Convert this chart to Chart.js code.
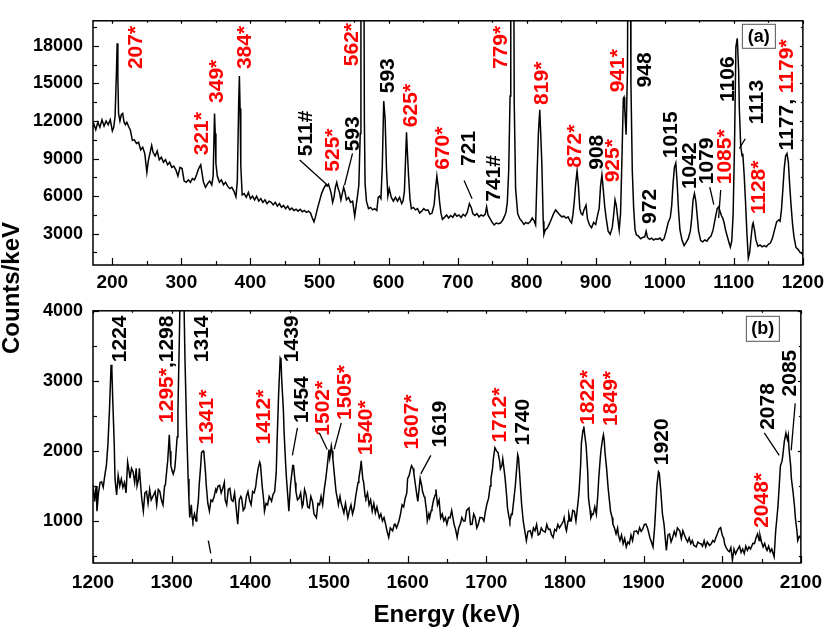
<!DOCTYPE html>
<html>
<head>
<meta charset="utf-8">
<script src="https://cdn.jsdelivr.net/npm/chart.js@4.4.1/dist/chart.umd.min.js"></script>
<style>
  body { margin: 0; background: #fff; }
  #wrap { position: relative; width: 830px; height: 642px; overflow: hidden; }
  #wrap canvas { position: absolute; left: 0; }
  #specA { top: 0; }
  #specB { top: 290px; }
  #ytitle {
    position: absolute; left: -89px; top: 274px; width: 200px; height: 28px;
    line-height: 28px; text-align: center; transform: rotate(-90deg);
    font: bold 24px "Liberation Sans", Arial, sans-serif; color: #000;
  }
</style>
</head>
<body>
<div id="wrap">
  <canvas id="specA" width="830" height="300"></canvas>
  <canvas id="specB" width="830" height="352"></canvas>
  <div id="ytitle">Counts/keV</div>
</div>
<script>
// panel (a): 170 - 1200 keV
const energyA = [170,173,176,179,182,185,188,191,194,197,200,202,204,206,207,208,209,211,213,215,217,219,221,224,226,229,232,235,238,241,244,247,250,252,254,257,259,262,265,268,271,274,277,280,283,286,289,292,295,298,301,304,307,310,313,316,319,322,325,328,330,332,335,338,341,344,346,348,349,350,352,355,358,361,364,367,370,373,376,379,381,383,384,385,386,388,391,394,397,400,403,406,409,412,415,418,421,424,427,430,433,436,439,442,445,448,451,454,457,460,463,466,469,472,475,478,481,484,487,490,492,494,497,500,503,506,509,511,513,515,517,519,521,523,525,527,529,531,533,535,537,539,542,545,548,551,553,555,557,559,560,561,562,563,564,565,566,568,571,574,577,580,583,585,587,589,591,593,595,597,599,601,604,607,610,613,616,619,621,623,625,626,627,629,631,633,636,639,642,645,648,651,654,657,660,663,666,668,670,672,674,676,678,681,684,687,690,693,696,699,702,705,708,711,714,717,720,722,725,728,731,734,737,740,742,744,747,750,753,756,759,762,765,768,770,772,774,776,777,778,779,780,781,782,784,787,790,793,796,799,802,805,808,811,813,815,817,819,820,822,824,825,827,830,833,836,839,842,845,848,851,854,857,860,863,865,867,869,871,873,875,877,879,881,883,886,888,891,894,897,900,902,905,907,909,911,913,915,918,921,924,926,928,930,932,934,936,938,940,941,942,944,946,947,948,949,950,951,953,955,957,959,962,965,968,971,973,975,978,981,984,987,990,993,996,999,1002,1005,1008,1010,1012,1014,1016,1018,1020,1022,1025,1028,1031,1034,1037,1039,1041,1043,1045,1047,1049,1052,1055,1058,1061,1064,1067,1070,1073,1076,1078,1080,1082,1084,1086,1088,1090,1093,1095,1097,1099,1101,1103,1105,1107,1108,1110,1112,1113,1115,1117,1119,1121,1123,1125,1127,1128,1130,1132,1135,1138,1141,1144,1147,1150,1153,1156,1159,1162,1165,1167,1169,1171,1173,1175,1177,1179,1181,1183,1185,1187,1190,1193,1196,1199,1200];
const countsA = [11200,11800,11300,11900,11500,12100,11600,12000,11700,12100,11200,11500,12400,16000,18200,15500,12600,12000,12500,12600,11900,11700,11900,11500,11300,10450,10500,10200,10300,9700,9900,9400,7900,8800,9300,10050,9500,9200,9600,8900,9100,8700,8900,8500,8700,8300,8400,8100,7600,8300,8200,7200,7100,7300,7100,7400,7300,7700,8200,8500,7800,7100,6700,7000,7200,6900,7600,12600,11000,8600,7600,7100,7300,6900,7100,6800,6600,6700,6400,5950,7200,13500,15600,13000,8500,6100,6200,5900,6300,5800,6000,5700,6000,5600,5800,5500,5700,5400,5600,5500,5300,5500,5200,5400,5100,5250,5000,5200,4900,5050,4850,4950,4800,4950,4750,4850,4700,4800,4650,4200,3950,4300,5000,5600,6200,6600,6900,6800,6950,6600,6200,5500,5900,6700,7100,6600,6300,5700,6200,6700,6300,5700,5900,5500,5600,4400,5200,6000,6900,11000,19000,45000,50000,45000,30000,12000,7000,5600,5000,5100,4900,5000,4850,5900,6000,5800,8500,13600,12200,8200,6000,6600,5900,5600,5900,5600,5900,5400,5600,6400,9500,11100,9800,7600,5800,5000,5100,4900,5000,4650,4800,5000,4850,4900,4550,4650,5300,6600,7600,6700,5500,4600,4150,4300,4500,4250,4450,4300,4600,4400,4500,4300,4550,4400,4700,5400,5050,4600,4450,4600,4350,4500,4400,4550,5150,4500,4200,3900,3700,3850,3800,3850,4050,4400,4700,5500,8000,14000,30000,50000,60000,50000,30000,13500,6600,4600,4200,4000,3750,3900,3800,3950,4250,4000,3700,7600,11000,12900,11500,8600,4000,2950,3300,3450,3800,4200,4600,4900,4700,4500,4350,4400,4250,4350,4000,3860,4500,5600,7000,8000,6800,5000,4600,4500,4900,5280,4200,3700,3475,3900,3730,4300,5020,6800,7700,6500,5200,4300,3200,2960,3500,4500,5700,5200,4200,3300,4600,9000,13800,13900,13000,10900,16000,30000,50000,50000,30000,15000,8000,5000,3300,2900,2800,2600,2700,2750,3200,2700,2550,2650,2500,2600,2550,2650,2450,2600,3200,3900,4300,5200,7000,8300,8650,7000,4800,3300,2500,2050,2300,2600,3200,4200,5700,6200,5600,4400,3200,2450,2350,2500,2400,2650,2800,3300,4200,5000,5150,4800,4450,4250,3850,3300,2900,2300,1930,2400,4500,10000,17900,18600,16000,13000,10000,9200,9400,7700,5500,3000,1050,1500,2700,3700,3860,3300,2500,1990,2100,1950,2050,1950,2150,2250,2650,3300,3950,4100,4000,4900,6500,8200,9200,9400,8700,6800,5200,3800,2800,1900,1750,1500,1400,1280];

// panel (b): 1200 - 2100 keV
const energyB = [1200,1202,1204,1205,1207,1209,1211,1213,1215,1217,1219,1221,1223,1224,1225,1227,1228,1230,1232,1234,1236,1238,1240,1242,1244,1246,1247,1249,1251,1253,1255,1256,1258,1259,1261,1262,1264,1266,1268,1270,1272,1274,1277,1279,1281,1283,1285,1287,1289,1291,1292,1294,1295,1297,1298,1299,1301,1302,1304,1305,1307,1308,1310,1311,1312,1314,1315,1316,1317,1319,1321,1322,1323,1325,1326,1327,1329,1331,1332,1334,1335,1337,1338,1340,1341,1343,1344,1346,1348,1350,1352,1354,1356,1357,1359,1361,1363,1365,1367,1368,1370,1372,1374,1376,1378,1380,1382,1384,1386,1388,1389,1391,1393,1395,1397,1399,1401,1403,1405,1407,1408,1410,1412,1413,1415,1417,1418,1420,1422,1424,1427,1429,1431,1433,1434,1436,1438,1439,1440,1442,1443,1445,1446,1448,1449,1451,1452,1454,1455,1457,1458,1460,1462,1464,1466,1467,1469,1471,1473,1475,1477,1479,1481,1484,1486,1488,1490,1492,1494,1496,1498,1500,1501,1502,1503,1504,1505,1507,1509,1511,1512,1514,1515,1517,1519,1521,1524,1526,1528,1530,1532,1534,1535,1537,1538,1540,1541,1543,1544,1546,1547,1549,1551,1553,1555,1557,1559,1561,1564,1566,1568,1570,1572,1574,1576,1578,1581,1583,1584,1586,1589,1591,1593,1595,1597,1599,1600,1602,1604,1605,1607,1608,1610,1612,1613,1615,1616,1618,1619,1621,1622,1624,1625,1627,1628,1630,1631,1633,1635,1636,1638,1640,1642,1644,1646,1648,1650,1652,1654,1656,1659,1661,1663,1665,1667,1669,1671,1673,1675,1678,1680,1682,1684,1686,1688,1690,1692,1695,1697,1699,1701,1703,1705,1706,1708,1709,1711,1713,1715,1717,1718,1720,1721,1723,1724,1726,1727,1729,1730,1732,1733,1735,1737,1739,1740,1741,1742,1744,1745,1747,1749,1751,1753,1756,1758,1760,1762,1764,1766,1768,1770,1772,1775,1777,1779,1781,1783,1785,1787,1789,1791,1793,1796,1798,1799,1801,1802,1804,1805,1807,1808,1810,1812,1814,1815,1817,1818,1820,1821,1823,1824,1825,1827,1829,1830,1832,1833,1835,1836,1838,1840,1842,1843,1845,1846,1848,1849,1850,1851,1853,1855,1857,1858,1860,1861,1863,1865,1867,1868,1870,1872,1874,1876,1878,1880,1882,1884,1886,1888,1891,1893,1895,1897,1899,1901,1903,1905,1906,1908,1910,1912,1914,1915,1917,1919,1920,1922,1924,1926,1928,1929,1931,1933,1935,1937,1939,1941,1943,1946,1948,1950,1952,1954,1956,1958,1960,1962,1964,1967,1969,1971,1973,1975,1977,1979,1981,1984,1986,1988,1990,1992,1994,1996,1998,2000,2002,2003,2005,2007,2009,2011,2013,2015,2017,2019,2022,2024,2026,2028,2030,2032,2034,2036,2039,2041,2043,2045,2047,2048,2050,2052,2054,2056,2057,2059,2061,2063,2064,2066,2068,2070,2071,2073,2074,2076,2077,2079,2081,2082,2083,2084,2085,2087,2088,2090,2092,2093,2095,2096,2098,2100];
const countsB = [1510,1280,1500,1140,1400,1550,1560,1480,1650,1790,2100,2600,3230,3150,2770,2100,1600,1370,1650,1500,1600,1480,1550,1400,1840,1700,1610,1750,1700,1550,1750,1500,1600,1750,1450,1320,1140,1400,1420,1250,1450,1300,1370,1420,1230,1450,1420,1300,1230,1500,1510,1750,1860,2230,2000,1790,1700,1670,1750,1885,2200,2580,3740,4500,6000,7000,5000,3900,3280,2350,1600,1300,1050,1230,1050,1000,1100,1000,1095,1300,1510,1800,1975,2000,1975,1700,1510,1250,1140,1300,1280,1350,1450,1420,1500,1510,1400,1465,1550,1300,1230,1450,1465,1300,1280,1400,1185,955,1300,1350,1325,1150,1185,1350,1420,1300,1230,1420,1400,1500,1605,1750,1840,1800,1510,1300,1140,1250,1230,1350,1280,1380,1420,1700,2120,2810,3325,3300,3000,2600,2260,1800,1605,1300,1140,1500,1605,1790,1790,1550,1420,1300,1325,1400,1200,1230,1450,1370,1200,1185,1350,1280,1100,1045,1250,1230,1350,1230,1450,1605,1800,2020,1900,1975,2070,2000,1885,1650,1420,1300,1230,1350,1280,1200,1115,1250,1045,1150,1230,1100,1185,1350,1420,1550,1605,1750,1860,1600,1560,1350,1325,1400,1230,1300,1140,1250,1115,1200,1045,1100,1000,1050,955,850,765,900,860,950,955,900,1000,1100,1230,1200,1325,1400,1605,1650,1750,1790,1750,1675,1510,1350,1280,1500,1605,1500,1420,1350,1325,1150,1000,1100,1045,1150,1185,1300,1370,1450,1230,1300,1045,1100,1000,1050,955,1050,1045,1150,955,880,765,900,955,1050,1000,1000,1150,1185,950,955,1100,1045,900,955,1050,1045,1000,1140,1250,1325,1500,1605,1750,1885,2045,2000,1975,1850,1745,1800,1885,1700,1605,1350,1185,1050,1000,1100,1095,1300,1510,1800,1945,1900,1745,1400,1230,1000,860,720,850,860,780,900,860,950,800,815,900,860,840,950,880,885,800,765,880,860,950,900,955,1000,1045,900,860,1000,1095,1000,1000,1150,1140,1000,1095,1300,1420,1800,2115,2300,2350,2250,2070,1700,1325,1150,1045,1100,1095,1200,1095,1400,1605,1900,2020,2180,2230,2150,1975,1750,1465,1250,1140,1050,955,900,815,900,800,720,800,675,750,630,700,675,800,720,850,860,820,905,850,885,950,955,900,860,765,700,630,900,1095,1510,1700,1680,1420,1100,955,700,580,800,815,700,765,850,790,900,860,750,860,800,745,700,760,675,720,650,630,700,680,675,640,720,630,700,650,675,720,700,765,820,885,905,800,750,675,620,580,560,620,440,600,530,580,640,550,600,535,640,580,630,600,680,675,760,815,720,800,700,630,680,600,580,640,560,600,560,490,860,1100,1230,1600,1790,1850,1930,2140,2255,2200,2160,2220,2020,1790,1600,1420,1200,1045,860,720,780,760];

// axis tick labels
const xTicksA = [200, 300, 400, 500, 600, 700, 800, 900, 1000, 1100, 1200];
const yTicksA = [3000, 6000, 9000, 12000, 15000, 18000];
const xTicksB = [1200, 1300, 1400, 1500, 1600, 1700, 1800, 1900, 2000, 2100];
const yTicksB = [1000, 2000, 3000, 4000];

// peak labels: text parts (a part with * is a new line, drawn red), energy of the label, counts where the label starts
const peakTextA = [['207*'],['321*'],['349*'],['384*'],['511#'],['525*'],['562*'],['593'],['593'],['625*'],['670*'],['721'],['741#'],['779*'],['819*'],['872*'],['908'],['925*'],['941*'],['948'],['972'],['1015'],['1042'],['1079'],['1085*'],['1106'],['1113'],['1128*'],['1177, ','1179*']];
const peakAtA = [231.7,328,350,390.5,478.5,517,545,546,596.4,630,677,715,750,760,820,868,899.4,923,930,969,976,1006.6,1034,1059.6,1085.6,1089,1130.7,1135,1175.5];
const peakBaseA = [16145,9265,13440,16145,9188,7950,16377,9574,14212,11507,8106,8415,5555,16145,13285,8260,8106,7100,14290,14676,3777,9033,6560,6946,6946,13517,11739,4550,9652];
const leadersA = [[471.3,8879,511.7,6869],[547.8,9420,536.2,6869],[709.4,7255,721,5787],[1065.2,6714,1071,5323],[1081,6483,1078,4241],[1116.6,10579,1108,9806]];

const peakTextB = [['1224'],['1295*',',1298'],['1314'],['1341*'],['1412*'],['1439'],['1454'],['1502*'],['1505*'],['1540*'],['1607*'],['1619'],['1712*'],['1740'],['1822*'],['1849*'],['1920'],['2048*'],['2078'],['2085']];
const peakAtB = [1232,1292.8,1336.7,1343.4,1415.2,1450.6,1463.3,1489.9,1518,1544.7,1603.8,1639.6,1715.6,1744.7,1827,1857,1921.5,2048.5,2056,2084.8];
const peakBaseB = [3266,2399,3266,2091,2091,3266,2399,2217,2441,1937,2021,2049,2119,2077,2371,2357,1797,902,2301,2777];
const leadersB = [[1459.9,2329,1453.5,1937],[1487.7,2259,1497.8,2021],[1515.6,2399,1506.7,2021],[1629.5,1937,1616.8,1672],[2053.5,2259,2072.5,1937],[2092.8,2679,2087.7,2007],[1346.6,720,1349.7,538]];

const FONT = '"Liberation Sans", Arial, sans-serif';

// box, inward ticks, peak labels and panel tag
const spectrumDecor = {
    id: 'spectrumDecor',
    afterDraw(chart, args, opts) {
        const { ctx, chartArea: a, scales: { x, y } } = chart;
        ctx.save();
        ctx.strokeStyle = '#000';
        ctx.lineWidth = 1.5;
        ctx.strokeRect(a.left, a.top, a.width, a.height);

        ctx.lineWidth = 1.2;
        const first = v => Math.ceil(v / opts.xMinor - 1e-9) * opts.xMinor;
        for (let v = first(x.min); v <= x.max + 1e-6; v += opts.xMinor) {
            const px = Math.round(x.getPixelForValue(v)) + 0.5;
            const major = opts.xTicks.includes(v);
            const len = major ? 7 : 4;
            ctx.beginPath(); ctx.moveTo(px, a.bottom); ctx.lineTo(px, a.bottom - len); ctx.stroke();
            ctx.beginPath(); ctx.moveTo(px, a.top); ctx.lineTo(px, a.top + (major ? 3 : 2)); ctx.stroke();
        }
        for (let v = opts.yMinor; v <= y.max + 1e-6; v += opts.yMinor) {
            if (v < y.min) continue;
            const py = Math.round(y.getPixelForValue(v)) + 0.5;
            const major = opts.yTicks.includes(v);
            const len = major ? 6 : 4;
            ctx.beginPath(); ctx.moveTo(a.left, py); ctx.lineTo(a.left + len, py); ctx.stroke();
            ctx.beginPath(); ctx.moveTo(a.right, py); ctx.lineTo(a.right - (major ? 3 : 2), py); ctx.stroke();
        }

        // leader lines
        ctx.lineWidth = 1.3;
        opts.leaders.forEach(l => {
            ctx.beginPath();
            ctx.moveTo(x.getPixelForValue(l[0]), y.getPixelForValue(l[1]));
            ctx.lineTo(x.getPixelForValue(l[2]), y.getPixelForValue(l[3]));
            ctx.stroke();
        });

        // rotated peak labels
        ctx.font = 'bold 21px ' + FONT;
        ctx.textAlign = 'left';
        ctx.textBaseline = 'alphabetic';
        opts.texts.forEach((parts, i) => {
            const px = x.getPixelForValue(opts.at[i]);
            const py = y.getPixelForValue(opts.base[i]);
            ctx.save();
            ctx.translate(px + 7.5, py);
            ctx.rotate(-Math.PI / 2);
            let off = 0;
            parts.forEach(p => {
                ctx.fillStyle = p.includes('*') ? '#ff0000' : '#000';
                ctx.fillText(p, off, 0);
                off += ctx.measureText(p).width;
            });
            ctx.restore();
        });

        // panel tag
        const t = opts.tag;
        const bx = a.right - t.right - t.w, by = a.top + t.top;
        ctx.lineWidth = 1;
        ctx.strokeStyle = '#555';
        ctx.strokeRect(bx + 0.5, by + 0.5, t.w, t.h);
        ctx.fillStyle = '#000';
        ctx.font = 'bold 18px ' + FONT;
        ctx.textAlign = 'center';
        ctx.textBaseline = 'middle';
        ctx.fillText(t.text, bx + t.w / 2 + 0.5, by + t.h / 2 + 1);
        ctx.restore();
    }
};

function spectrumChart(canvasId, energy, counts, cfg) {
    const points = energy.map((e, i) => ({ x: e, y: counts[i] }));
    const xFont = { family: FONT, size: 19, weight: 'bold' };
    const yFont = { family: FONT, size: 18, weight: 'bold' };
    return new Chart(document.getElementById(canvasId), {
        type: 'line',
        data: {
            datasets: [{
                data: points,
                borderColor: '#000',
                borderWidth: 1.5,
                pointRadius: 0,
                tension: 0,
                fill: false
            }]
        },
        options: {
            responsive: false,
            animation: false,
            events: [],
            layout: { padding: { left: 0, right: 25, top: cfg.top, bottom: 0 } },
            scales: {
                x: {
                    type: 'linear',
                    min: cfg.xMin,
                    max: cfg.xMax,
                    grid: { display: false, drawTicks: false },
                    border: { display: false },
                    ticks: { font: xFont, color: '#000', padding: cfg.xPad, maxRotation: 0, autoSkip: false, callback: v => String(v) },
                    afterBuildTicks: s => { s.ticks = cfg.xTicks.map(v => ({ value: v })); },
                    afterFit: s => { s.height = cfg.xHeight; },
                    title: cfg.xTitle
                },
                y: {
                    min: cfg.yMin,
                    max: cfg.yMax,
                    grid: { display: false, drawTicks: false },
                    border: { display: false },
                    ticks: { font: yFont, color: '#000', padding: 10, autoSkip: false, callback: v => String(v) },
                    afterBuildTicks: s => { s.ticks = cfg.yTicks.map(v => ({ value: v })); },
                    afterFit: s => { s.width = 93; }
                }
            },
            plugins: {
                legend: { display: false },
                tooltip: { enabled: false },
                spectrumDecor: {
                    xMinor: 50, yMinor: cfg.yMinor,
                    xTicks: cfg.xTicks, yTicks: cfg.yTicks,
                    texts: cfg.texts, at: cfg.at, base: cfg.base, leaders: cfg.leaders,
                    tag: cfg.tag
                }
            }
        },
        plugins: [spectrumDecor]
    });
}

spectrumChart('specA', energyA, countsA, {
    top: 13, xHeight: 35, xPad: 6, xMin: 172, xMax: 1200, yMin: 500, yMax: 20000,
    xTicks: xTicksA, yTicks: yTicksA, yMinor: 1500,
    texts: peakTextA, at: peakAtA, base: peakBaseA, leaders: leadersA,
    tag: { text: '(a)', right: 28, top: 3, w: 33, h: 24 },
    xTitle: { display: false }
});

spectrumChart('specB', energyB, countsB, {
    top: 15, xHeight: 79, xPad: 8, xMin: 1200, xMax: 2100, yMin: 400, yMax: 4000,
    xTicks: xTicksB, yTicks: yTicksB, yMinor: 500,
    texts: peakTextB, at: peakAtB, base: peakBaseB, leaders: leadersB,
    tag: { text: '(b)', right: 22, top: 5, w: 33, h: 25 },
    xTitle: {
        display: true, text: 'Energy (keV)', color: '#000',
        font: { family: FONT, size: 24, weight: 'bold' },
        padding: { top: 0, bottom: 12 }
    }
});
</script>
</body>
</html>
